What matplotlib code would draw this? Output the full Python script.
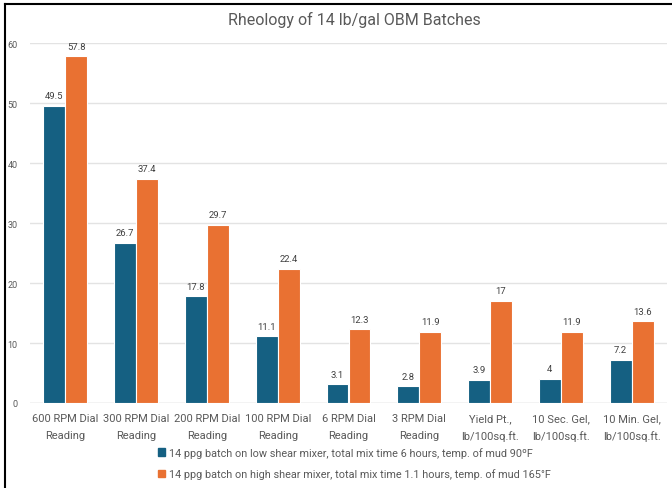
import matplotlib.pyplot as plt
import numpy as np
from matplotlib.lines import Line2D
from matplotlib.patches import Patch

categories = ['600 RPM Dial\nReading', '300 RPM Dial\nReading', '200 RPM Dial\nReading',
              '100 RPM Dial\nReading', '6 RPM Dial\nReading', '3 RPM Dial\nReading',
              'Yield Pt.,\nlb/100sq.ft.', '10 Sec. Gel,\nlb/100sq.ft.', '10 Min. Gel,\nlb/100sq.ft.']
low_shear = [49.5, 26.7, 17.8, 11.1, 3.1, 2.8, 3.9, 4, 7.2]
high_shear = [57.8, 37.4, 29.7, 22.4, 12.3, 11.9, 17, 11.9, 13.6]
low_label = '14 ppg batch on low shear mixer, total mix time 6 hours, temp. of mud 90ºF'
high_label = '14 ppg batch on high shear mixer, total mix time 1.1 hours, temp. of mud 165°F'

blue = '#156082'
orange = '#E97132'
grey = '#595959'

plt.rcParams['font.family'] = ['Roboto', 'DejaVu Sans']

fig = plt.figure(figsize=(6.72, 4.89), dpi=100)
ax = fig.add_axes([30 / 672, 85 / 489, 637 / 672, 360 / 489])

x = np.arange(len(categories))
w = 0.31
b1 = ax.bar(x - w / 2, low_shear, w, color=blue, edgecolor='white', linewidth=0.8, zorder=3)
b2 = ax.bar(x + w / 2, high_shear, w, color=orange, edgecolor='white', linewidth=0.8, zorder=3)
ax.bar_label(b1, labels=[f'{v:g}' for v in low_shear], padding=4, fontsize=6.8, color='#404040')
ax.bar_label(b2, labels=[f'{v:g}' for v in high_shear], padding=4, fontsize=6.8, color='#404040')

ax.set_xlim(-0.5, len(categories) - 0.5)
ax.set_ylim(0, 60)
ax.set_yticks(range(0, 61, 10))
ax.yaxis.grid(True, color='#E3E3E3', linewidth=1, zorder=0)
for s in ax.spines.values():
    s.set_visible(False)
ax.axhline(0, color='#D9D9D9', linewidth=1, zorder=1)
ax.tick_params(axis='both', length=0)
ax.tick_params(axis='y', labelsize=6.5, labelcolor=grey, pad=9)
ax.set_xticks(x)
ax.set_xticklabels(categories, fontsize=8, color=grey, linespacing=1.85)
ax.tick_params(axis='x', pad=7)

fig.text(354 / 672, 1 - 20 / 489, 'Rheology of 14 lb/gal OBM Batches', ha='center', va='center',
         fontsize=11.5, color=grey)

handles = [Patch(color=blue), Patch(color=orange)]
fig.legend(handles, [low_label, high_label], loc='upper left', bbox_to_anchor=(148 / 672, 1 - 438 / 489),
           frameon=False, fontsize=7.8, labelcolor=grey, handlelength=0.7, handleheight=0.7,
           handletextpad=0.35, labelspacing=1.0)

# frame edges along the top and left
fig.add_artist(Line2D([5 / 672, 1], [1 - 5 / 489, 1 - 5 / 489], color='black', linewidth=1.5))
fig.add_artist(Line2D([5 / 672, 5 / 672], [0, 1 - 5 / 489], color='black', linewidth=1.5))

fig.savefig('out.png', dpi=100)
